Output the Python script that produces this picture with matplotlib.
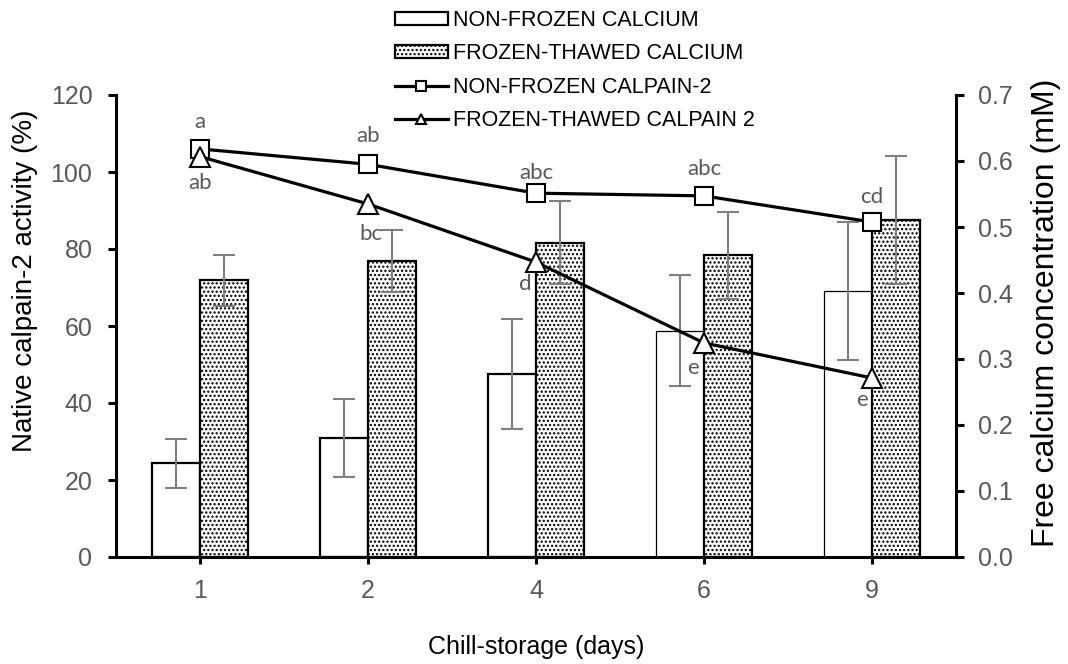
import numpy as np
import matplotlib
matplotlib.use('Agg')
import matplotlib.pyplot as plt

# chill-storage days
days = ['1', '2', '4', '6', '9']

# free calcium (mM), right axis
calcium_nonfrozen = [0.142, 0.180, 0.277, 0.343, 0.403]
calcium_nonfrozen_err = [0.037, 0.059, 0.083, 0.084, 0.104]
calcium_frozen = [0.419, 0.449, 0.476, 0.457, 0.511]
calcium_frozen_err = [0.039, 0.047, 0.063, 0.066, 0.097]

# native calpain-2 activity (%), left axis
calpain_nonfrozen = [106.0, 102.0, 94.5, 93.8, 87.0]
calpain_frozen = [104.0, 91.7, 76.6, 55.6, 46.5]

# significance letters
letters_nonfrozen = ['a', 'ab', 'abc', 'abc', 'cd']
letters_frozen = ['ab', 'bc', 'd', 'e', 'e']

# label offsets in pixels (dx, dy down)
off_nonfrozen = [(0, -27), (0, -28), (0, -20), (0, -27), (0, -25)]
off_frozen = [(0, 26), (3, 30), (-11, 22), (-11, 25), (-10, 22)]

plt.rcParams['font.family'] = ['Liberation Sans', 'DejaVu Sans']
plt.rcParams['hatch.linewidth'] = 1.1

grey = '#595959'
fig = plt.figure(figsize=(10.68, 6.64), dpi=100)
ax = fig.add_axes([116/1068, 107/664, 840/1068, 462/664])
ax2 = ax.twinx()

x = np.arange(len(days))
w = 0.286

b1 = ax2.bar(x - w/2, calcium_nonfrozen, w, color='white', edgecolor='black',
             linewidth=[1.6, 1.6, 1.6, 0.9, 0.9], label='NON-FROZEN CALCIUM', zorder=2)
b2 = ax2.bar(x + w/2, calcium_frozen, w, color='white', edgecolor='black',
             hatch='....', linewidth=1.6, label='FROZEN-THAWED CALCIUM', zorder=2)
ax2.errorbar(x - w/2, calcium_nonfrozen, yerr=calcium_nonfrozen_err, fmt='none',
             ecolor='#7f7f7f', elinewidth=1.5, capsize=8, capthick=1.5, zorder=3)
ax2.errorbar(x + w/2, calcium_frozen, yerr=calcium_frozen_err, fmt='none',
             ecolor='#7f7f7f', elinewidth=1.5, capsize=8, capthick=1.5, zorder=3)

l1, = ax.plot(x, calpain_nonfrozen, color='black', lw=2.3, marker='s', ms=13.5,
              mfc='white', mec='black', mew=1.5, label='NON-FROZEN CALPAIN-2')
l2, = ax.plot(x, calpain_frozen, color='black', lw=2.3, marker='^', ms=14,
              mfc='white', mec='black', mew=1.5, label='FROZEN-THAWED CALPAIN 2')

for i in range(len(days)):
    dx, dy = off_nonfrozen[i]
    ax.annotate(letters_nonfrozen[i], (x[i], calpain_nonfrozen[i]),
                xytext=(dx*0.72, -dy*0.72), textcoords='offset points',
                ha='center', va='center', fontsize=16, color=grey, family='Lato')
    dx, dy = off_frozen[i]
    ax.annotate(letters_frozen[i], (x[i], calpain_frozen[i]),
                xytext=(dx*0.72, -dy*0.72), textcoords='offset points',
                ha='center', va='center', fontsize=16, color=grey, family='Lato')

ax.set_zorder(ax2.get_zorder() + 1)
ax.patch.set_visible(False)

ax.set_xlim(-0.5, len(days) - 0.5)
ax.set_ylim(0, 120)
ax.set_yticks(np.arange(0, 121, 20))
ax2.set_ylim(0, 0.7)
ax2.set_yticks(np.arange(0, 0.71, 0.1))
ax2.set_yticklabels(['%.1f' % v for v in np.arange(0, 0.71, 0.1)])
ax.set_xticks(x)
ax.set_xticklabels(days)

for a in (ax, ax2):
    a.spines['top'].set_visible(False)
    for s in a.spines.values():
        s.set_linewidth(2.2)
ax.spines['right'].set_visible(False)
ax2.spines['left'].set_visible(False)
ax2.spines['bottom'].set_visible(False)

ax.tick_params(axis='y', direction='out', length=6, width=2.2, labelsize=18,
               labelcolor=grey, pad=11)
ax.tick_params(axis='x', direction='out', length=5, width=2.2, labelsize=18,
               labelcolor=grey, pad=11)
ax2.tick_params(axis='y', direction='out', length=6, width=2.2, labelsize=18,
                labelcolor=grey, pad=10)

ax.set_ylabel('Native calpain-2 activity (%)', fontsize=20, va='center')
ax.yaxis.set_label_coords(-0.1083, 0.597)
ax2.set_ylabel('Free calcium concentration (mM)', fontsize=23, va='center')
ax2.yaxis.set_label_coords(1.107, 0.528)
ax.set_xlabel('Chill-storage (days)', fontsize=18, va='center')
ax.xaxis.set_label_coords(0.5, -0.195)

fig.legend(handles=[b1, b2, l1, l2], loc='upper left',
           bbox_to_anchor=(395/1068, 1 - 10/664), frameon=False, fontsize=15.5,
           borderpad=0, borderaxespad=0, handlelength=2.45, handleheight=0.55,
           handletextpad=0.25, labelspacing=0.58, markerscale=0.55)

fig.savefig('out.png', dpi=100)
